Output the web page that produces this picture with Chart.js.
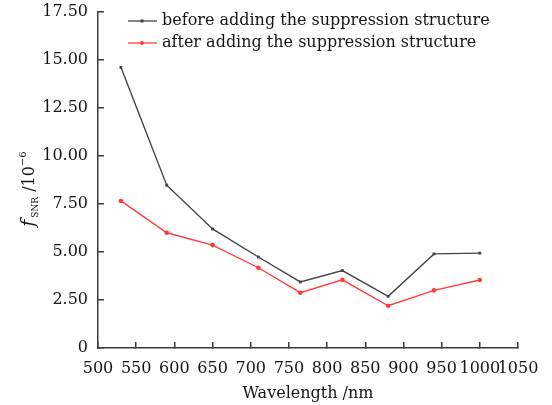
<!DOCTYPE html>
<html lang="en">
<head>
    <meta charset="UTF-8">
    <title>fSNR vs wavelength</title>
    <script src="https://cdn.jsdelivr.net/npm/chart.js"></script>
    <style>
        body { margin: 0; background: #fff; }
        .wrap { position: relative; width: 552px; height: 405px; }
    </style>
</head>
<body>
    <div class="wrap">
        <canvas id="chart"></canvas>
    </div>

    <script>
        // data
        const wavelengths = [530, 590, 650, 710, 765, 820, 880, 940, 1000];
        const before = [14.62, 8.48, 6.20, 4.74, 3.44, 4.03, 2.69, 4.90, 4.94];
        const after = [7.66, 6.00, 5.36, 4.18, 2.88, 3.55, 2.20, 3.00, 3.54];
        const labels = ['before adding the suppression structure', 'after adding the suppression structure'];

        const FONT = 'DejaVu Serif';
        const axisColor = '#3a3a3a';
        const textColor = '#151515';

        // y axis title with sub/superscript
        const yTitle = {
            id: 'yTitle',
            afterDraw(chart) {
                const ctx = chart.ctx;
                const area = chart.chartArea;
                ctx.save();
                ctx.translate(34, (area.top + area.bottom) / 2 + 10);
                ctx.rotate(-Math.PI / 2);
                ctx.fillStyle = textColor;
                ctx.textBaseline = 'alphabetic';
                const parts = [
                    { t: 'f', f: 'italic 19px ' + FONT, dy: 0 },
                    { t: 'SNR', f: '9px ' + FONT, dy: 4 },
                    { t: ' /10', f: '16px ' + FONT, dy: 0 },
                    { t: '−6', f: '10px ' + FONT, dy: -8 }
                ];
                let w = 0;
                parts.forEach(p => { ctx.font = p.f; w += ctx.measureText(p.t).width; });
                let x = -w / 2;
                parts.forEach(p => {
                    ctx.font = p.f;
                    ctx.fillText(p.t, x, p.dy);
                    x += ctx.measureText(p.t).width + (p.t === 'f' ? 2 : 0);
                });
                ctx.restore();
            }
        };

        // legend with line + marker
        const legendBox = {
            id: 'legendBox',
            afterDraw(chart) {
                const ctx = chart.ctx;
                ctx.save();
                ctx.font = '16px ' + FONT;
                ctx.textBaseline = 'middle';
                chart.data.datasets.forEach((ds, i) => {
                    const y = 21 + i * 22;
                    ctx.strokeStyle = ds.borderColor;
                    ctx.lineWidth = 1.3;
                    ctx.beginPath();
                    ctx.moveTo(128, y);
                    ctx.lineTo(157, y);
                    ctx.stroke();
                    ctx.fillStyle = ds.pointBackgroundColor;
                    if (ds.pointStyle === 'rect') {
                        ctx.fillRect(140.5, y - 1.5, 3, 3);
                    } else {
                        ctx.beginPath();
                        ctx.arc(142, y, 2, 0, Math.PI * 2);
                        ctx.fill();
                    }
                    ctx.fillStyle = textColor;
                    ctx.fillText(ds.label, 162, y);
                });
                ctx.restore();
            }
        };

        // inward ticks: negative tick length, no lines across the plot
        const tickGrid = {
            display: true,
            drawOnChartArea: false,
            drawTicks: true,
            tickLength: -6,
            color: axisColor,
            lineWidth: 1.5
        };

        new Chart(document.getElementById('chart'), {
            type: 'line',
            data: {
                datasets: [{
                    label: labels[0],
                    data: wavelengths.map((w, i) => ({ x: w, y: before[i] })),
                    borderColor: '#444',
                    borderWidth: 1.4,
                    pointStyle: 'rect',
                    pointRadius: 2,
                    pointBackgroundColor: '#444',
                    pointBorderWidth: 0,
                    tension: 0
                }, {
                    label: labels[1],
                    data: wavelengths.map((w, i) => ({ x: w, y: after[i] })),
                    borderColor: '#ff3c3c',
                    borderWidth: 1.4,
                    pointStyle: 'circle',
                    pointRadius: 2.3,
                    pointBackgroundColor: '#ff3c3c',
                    pointBorderWidth: 0,
                    tension: 0
                }]
            },
            options: {
                responsive: true,
                maintainAspectRatio: false,
                animation: false,
                layout: { padding: { top: 12, right: 34, left: 0, bottom: 0 } },
                plugins: {
                    legend: { display: false },
                    tooltip: { enabled: false }
                },
                scales: {
                    x: {
                        type: 'linear',
                        min: 500,
                        max: 1050,
                        ticks: {
                            stepSize: 50,
                            color: textColor,
                            font: { family: FONT, size: 16 },
                            padding: 17,
                            maxRotation: 0,
                            autoSkip: false,
                            callback: v => String(v)
                        },
                        grid: tickGrid,
                        border: { color: axisColor, width: 1.5 },
                        title: {
                            display: true,
                            text: 'Wavelength /nm',
                            color: textColor,
                            font: { family: FONT, size: 16 },
                            padding: { top: 0, bottom: 2 }
                        },
                        afterFit(scale) {
                            scale.height = 57;
                            scale.paddingLeft = 0;
                            scale.paddingRight = 0;
                        }
                    },
                    y: {
                        min: 0,
                        max: 17.5,
                        ticks: {
                            stepSize: 2.5,
                            color: textColor,
                            font: { family: FONT, size: 16 },
                            padding: 16,
                            callback: v => v === 0 ? '0' : v.toFixed(2)
                        },
                        grid: tickGrid,
                        border: { color: axisColor, width: 1.5 },
                        afterFit(scale) {
                            scale.width = 98;
                            scale.paddingTop = 0;
                            scale.paddingBottom = 0;
                        }
                    }
                }
            },
            plugins: [yTitle, legendBox]
        });
    </script>
</body>
</html>
